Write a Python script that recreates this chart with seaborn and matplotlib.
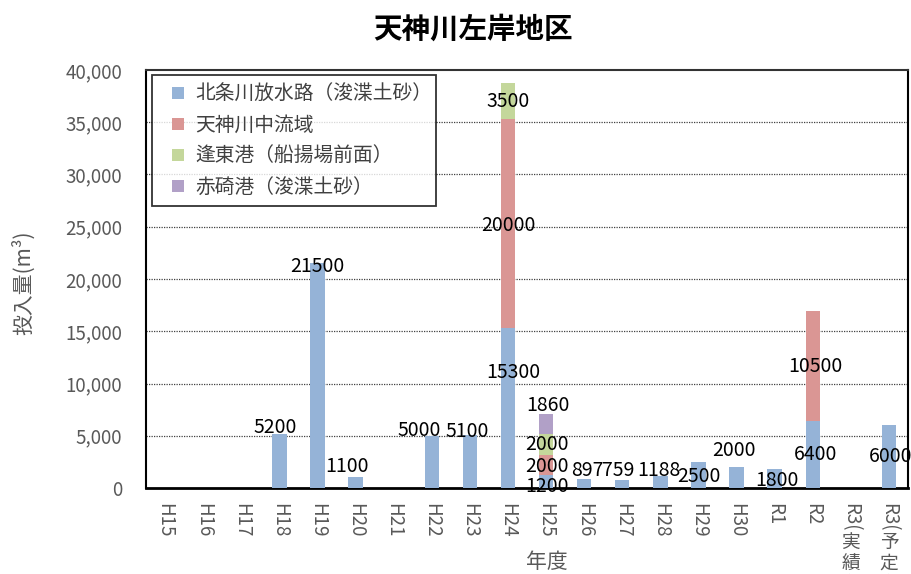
import numpy as np
import pandas as pd
import matplotlib
matplotlib.use("Agg")
import matplotlib.pyplot as plt
import matplotlib.transforms as mtransforms
from matplotlib.lines import Line2D
import seaborn as sns

# --- data -------------------------------------------------------------
years = ["H15", "H16", "H17", "H18", "H19", "H20", "H21", "H22", "H23", "H24",
         "H25", "H26", "H27", "H28", "H29", "H30", "R1", "R2", "R3(実績)", "R3(予定)"]
series_names = ["北条川放水路（浚渫土砂）", "天神川中流域", "逢東港（船揚場前面）", "赤碕港（浚渫土砂）"]
hojo = [0, 0, 0, 5200, 21500, 1100, 0, 5000, 5100, 15300,
        1200, 897, 759, 1188, 2500, 2000, 1800, 6400, 0, 6000]
tenjin = [0, 0, 0, 0, 0, 0, 0, 0, 0, 20000,
          2000, 0, 0, 0, 0, 0, 0, 10500, 0, 0]
hoto = [0, 0, 0, 0, 0, 0, 0, 0, 0, 3500,
        2000, 0, 0, 0, 0, 0, 0, 0, 0, 0]
akasaki = [0, 0, 0, 0, 0, 0, 0, 0, 0, 0,
           1860, 0, 0, 0, 0, 0, 0, 0, 0, 0]
y_ticks = [0, 5000, 10000, 15000, 20000, 25000, 30000, 35000, 40000]

colors = ["#95B3D7", "#DA9694", "#C4D79B", "#B1A0C7"]

# label placement: (year, series index, label y in data units, x shift in pt)
label_place = [
    ("H18", 0, 5837, -3), ("H19", 0, 21244, 0), ("H20", 0, 2105, -6),
    ("H22", 0, 5550, -9), ("H23", 0, 5360, -2),
    ("H24", 0, 11100, 4), ("H24", 1, 25167, 0), ("H24", 2, 37033, 0),
    ("H25", 0, 190, 1), ("H25", 1, 2010, 1), ("H25", 2, 4115, 1), ("H25", 3, 7847, 1),
    ("H26", 0, 1722, 2), ("H27", 0, 1722, -3), ("H28", 0, 1722, -1),
    ("H29", 0, 1053, 0), ("H30", 0, 3636, -2), ("R1", 0, 670, 2),
    ("R2", 0, 3158, 2), ("R2", 1, 11579, 2), ("R3(予定)", 0, 2967, 1),
]

series = [hojo, tenjin, hoto, akasaki]

# --- style ------------------------------------------------------------
sns.set_theme(style="white")
plt.rcParams["font.family"] = ["Noto Sans CJK JP", "DejaVu Sans"]
gray = "#595959"

fig = plt.figure(figsize=(9.11, 5.74), dpi=100)
ax = fig.add_axes([146 / 911, 1 - 488 / 574, 762 / 911, 418 / 574])

# stacked bars: draw cumulative totals from the top series down
cum = np.cumsum(np.array(series, dtype=float), axis=0)
df = pd.DataFrame({"年度": years})
for i in range(len(series) - 1, -1, -1):
    df["total"] = cum[i]
    sns.barplot(data=df, x="年度", y="total", order=years, color=colors[i],
                saturation=1, width=0.38, linewidth=0, ax=ax, zorder=3)

# value labels
for yr, si, ypos, dx in label_place:
    xi = years.index(yr)
    val = series[si][xi]
    ax.annotate(f"{val}", xy=(xi, ypos), xytext=(dx, 0), textcoords="offset points",
                ha="center", va="center", fontsize=14, color="black", zorder=5,
                annotation_clip=False)

# axes
ax.set_ylim(0, 40000)
ax.set_xlim(-0.5, len(years) - 0.5)
ax.set_yticks(y_ticks)
ax.set_yticklabels([f"{t:,}" for t in y_ticks])
for t in y_ticks[1:-1]:
    ax.axhline(t, color="#404040", lw=0.9, ls=(0, (1, 1)), zorder=1)
ax.tick_params(axis="y", length=0, pad=17, labelsize=13.5, labelcolor=gray)
ax.tick_params(axis="x", length=0, pad=11, labelsize=13.5, labelcolor=gray)

# category labels: latin part turned sideways, kanji part stacked upright
ax.set_xticks(range(len(years)))
tick_text = []
kanji_part = {}
for i, yr in enumerate(years):
    if "(" in yr:
        head, tail = yr.split("(", 1)
        tick_text.append(head + "(")
        kanji_part[i] = "\n".join(tail)
    else:
        tick_text.append(yr)
ax.set_xticklabels(tick_text)
for lab in ax.get_xticklabels():
    lab.set_rotation(-90)
    lab.set_va("top")
    lab.set_ha("center")
blend = mtransforms.blended_transform_factory(ax.transData, ax.transAxes)
for i, txt in kanji_part.items():
    ax.text(i, -0.105, txt, transform=blend, ha="center", va="top",
            fontsize=13.5, color=gray, linespacing=1.0, clip_on=False)

for side in ["left", "right", "top", "bottom"]:
    ax.spines[side].set_visible(True)
    ax.spines[side].set_color("black")
    ax.spines[side].set_linewidth(1.5)
ax.spines["bottom"].set_linewidth(2)
ax.spines["top"].set_color("#333333")

ax.set_ylabel("投入量(m³)", fontsize=15, color=gray)
ax.yaxis.set_label_coords(-0.146, 0.49)
ax.set_xlabel("年度", fontsize=15, color=gray)
ax.xaxis.set_label_coords(0.526, -0.15)

handles = [Line2D([], [], ls="none", marker="s", markersize=8, markerfacecolor=c,
                  markeredgewidth=0) for c in colors]
leg = ax.legend(handles, series_names, loc="upper left", mode="expand",
                bbox_to_anchor=(0.0079, 0.5, 0.3727, 0.488),
                fontsize=14.2, frameon=True, fancybox=False, handlelength=1.7,
                labelspacing=0.5, handletextpad=0.05,
                borderpad=0.45, borderaxespad=0)
leg.get_frame().set_edgecolor("black")
leg.get_frame().set_linewidth(1.3)
for txt in leg.get_texts():
    txt.set_color("#404040")
leg.set_zorder(6)

fig.text(473 / 911, 1 - 30 / 574, "天神川左岸地区", ha="center", va="center",
         fontsize=20.5, fontweight="bold", color="black")

fig.savefig("out.png", dpi=100)
